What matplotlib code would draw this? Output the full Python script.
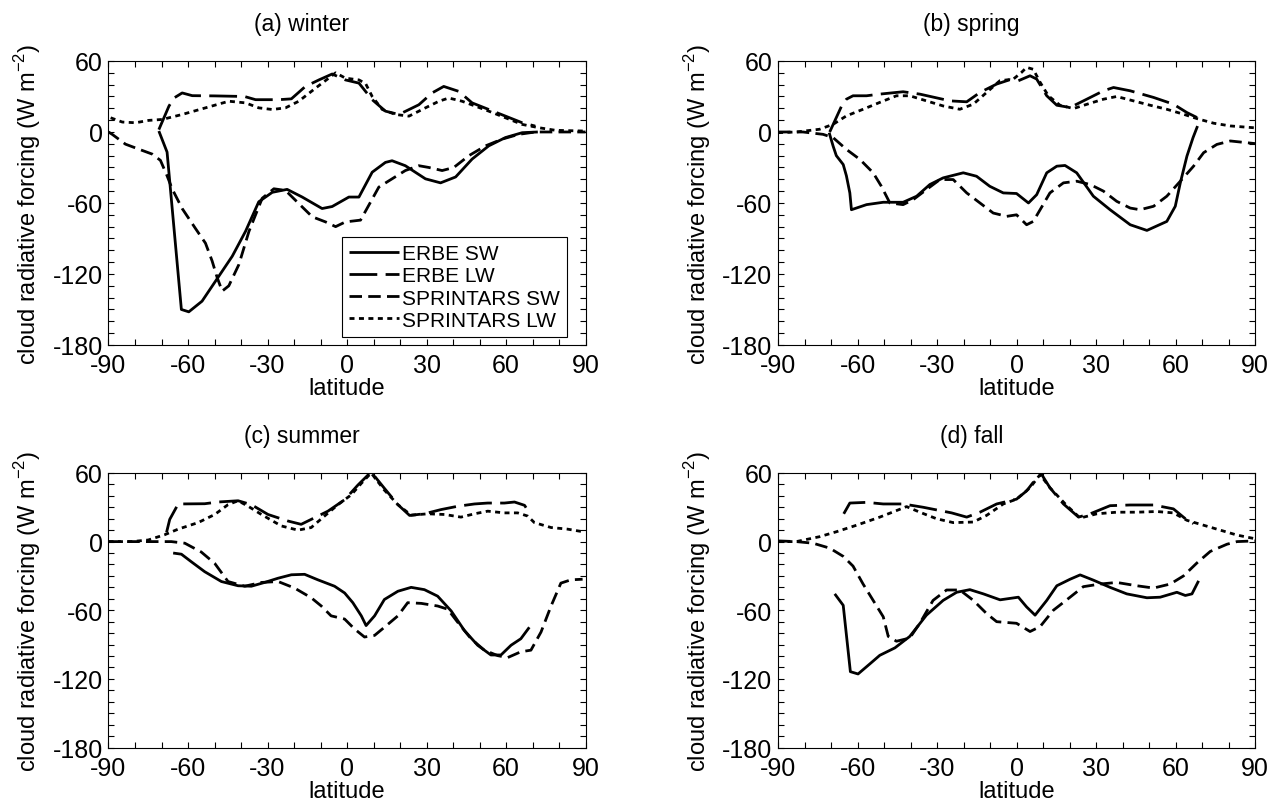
import matplotlib
matplotlib.use('Agg')
import matplotlib.pyplot as plt
from matplotlib.ticker import MultipleLocator

plt.rcParams['font.family'] = ['Liberation Sans', 'DejaVu Sans']
plt.rcParams['mathtext.fontset'] = 'custom'
plt.rcParams['mathtext.rm'] = 'Liberation Sans'
plt.rcParams['axes.unicode_minus'] = False
plt.rcParams['lines.scale_dashes'] = False

# (a) winter
a_erbe_sw_lat = [-71, -67.9, -62.5, -59.7, -54.7, -49.6, -43.3, -38.3, -33.3, -28.2, -22.6, -16.9,
                 -9.4, -5.6, 0.7, 4.5, 9.5, 14.5, 17, 22, 29.6, 35.3, 41, 47.2, 53.5, 59.8, 66.1, 72]
a_erbe_sw = [0.8, -17, -150, -152, -143, -126, -105, -84, -59, -51, -48.5, -55,
             -64.7, -63, -55, -55, -34, -25.7, -24.3, -28.5, -39.6, -43, -38, -22.9, -11.7, -4.7, -0.6, 0]
a_erbe_lw_lat = [-71, -67.2, -65.3, -62.2, -58.4, -50, -38.7, -34.5, -25.7, -21, -15.7, -10.6, -5.6,
                 -0.6, 4.5, 9.5, 14.5, 19.6, 27.1, 32.1, 36.5, 42.2, 47.2, 53.5, 59.8, 66.1, 71]
a_erbe_lw = [2, 21.8, 28.7, 33, 30.7, 30.5, 30, 27.3, 27.3, 28, 38.5, 44, 49,
             44, 41.3, 27.3, 17.6, 14.8, 23, 33, 38.5, 34.3, 24.6, 19, 13.4, 7.8, 5]
a_spr_sw_lat = [-90, -88.6, -83.6, -78.6, -73.5, -70.4, -67.9, -66, -62.2, -57.2, -53.4, -50.9, -49,
                -47.1, -44.6, -40.8, -37, -32, -27.6, -23.2, -18.2, -13.1, -8.1, -4.3, -0.6, 5.1,
                8.2, 12, 17, 22, 27.1, 30.9, 35.9, 40.3, 46, 52.3, 58.6, 64.8, 71.1, 90]
a_spr_sw = [0, -2, -10.3, -14.5, -18.7, -24, -37, -48, -64.7, -81.5, -94, -109, -123,
            -134.5, -130, -112, -84, -56, -48, -49.4, -60.5, -71.7, -76, -80, -76, -74.5,
            -62, -46.6, -39.6, -32.6, -28.5, -30, -32.6, -30, -20, -11.7, -6, -2, 0, 0]
a_spr_lw_lat = [-89.2, -84.8, -79.8, -74.8, -69.7, -62.2, -53.4, -44.6, -38.3, -33.3, -28.2, -23.2,
                -18.2, -11.9, -6.9, -4.3, -0.6, 4.5, 7, 9.5, 13.3, 18.3, 23.4, 29.6, 34.7, 38.4,
                43.4, 48.5, 53.5, 59.8, 66.1, 72.4, 78.7, 89.4]
a_spr_lw = [12, 8.4, 7.8, 9.8, 10.6, 14.8, 20.4, 26, 24.6, 20.4, 19, 20.4,
            26, 37, 45.5, 50, 45.5, 44, 41, 30, 19, 14.8, 13.4, 20.4, 26, 28.7,
            26, 21.8, 17.6, 12, 6.4, 3.6, 1.4, 0.8]

# (b) spring
b_erbe_sw_lat = [-70.7, -69.2, -68, -65.4, -64.2, -62.9, -62.3, -56.6, -50.3, -42.8, -37.7, -32.7,
                 -27.7, -20.1, -15.1, -10.1, -5, 0, 4.5, 7.6, 11.4, 15.2, 18.3, 22.7, 29, 35.3,
                 42.9, 49.2, 56.7, 59.9, 61.8, 64.3, 66.6, 68.3]
b_erbe_sw = [-0.6, -12, -20, -27.5, -37, -51.5, -65.7, -61.4, -59.4, -59.4, -54.3, -44.4,
             -38.8, -34.5, -37.4, -45.9, -51.5, -52, -60, -53, -34.5, -28.9, -28.3, -34.5, -54.3, -65.7,
             -78.4, -83.2, -75.6, -62.8, -43, -20.4, -4.8, 5]
b_erbe_lw_lat = [-70.5, -66, -64.2, -61.7, -56.6, -51.6, -42.8, -36.5, -25.1, -18.8, -13.8, -7.5,
                 -2.5, 0.7, 5.1, 7.6, 11.4, 15.2, 20.2, 26.5, 32.8, 36.6, 42.9, 51.7, 59.2, 64.3, 68.1]
b_erbe_lw = [0, 22, 27.7, 30.6, 30.6, 32, 34, 32, 26.3, 25.5, 33.4, 40.5,
             44.2, 43.3, 47.5, 44.7, 30.6, 22.6, 20.7, 27.7, 34.8, 37.6, 34.8, 29.2, 23.5, 16.4, 12.2]
b_spr_sw_lat = [-90, -80.6, -73, -69.2, -64.2, -59.1, -54.1, -51, -47.8, -42.8, -39, -34, -28.9,
                -23.9, -18.8, -13.8, -8.8, -3.7, 0, 3.8, 6.3, 8.9, 12.6, 17.7, 22.7, 27.8, 32.8,
                37.8, 42.9, 46.6, 51.7, 56.7, 61.8, 66.8, 70.6, 75.6, 80.7, 90]
b_spr_sw = [0, 0, -2, -4.8, -14.7, -23.2, -34.5, -45.9, -60, -61.4, -57.2, -48.7, -40.2,
            -40.2, -51.5, -60, -68.5, -71.3, -70, -78.4, -75.6, -65.7, -51.5, -43, -41.6, -44.4, -50,
            -58.6, -64.3, -65.7, -62.8, -54.3, -41.6, -28.9, -17.5, -10.5, -7.6, -9.8]
b_spr_lw_lat = [-90, -83.1, -74.3, -69.2, -64.2, -57.9, -51.6, -45.3, -40.3, -34, -27.7, -21.4,
                -16.3, -11.3, -6.3, -1.2, 1.9, 3.8, 6.3, 8.9, 12, 16.4, 21.5, 27.8, 32.8, 37.8,
                44.1, 50.4, 56.7, 63, 68.1, 74.4, 80.7, 90]
b_spr_lw = [-0.6, 0, 2.3, 6.5, 13.6, 19.2, 25, 30.6, 30.6, 26.3, 22, 19.2,
            23.5, 33.4, 43.3, 44.7, 50.4, 54.6, 53, 42, 30.6, 22.6, 19.8, 24.3, 27.7, 30,
            26.3, 22.6, 19.2, 15, 11.3, 7.4, 5.1, 3.5]

# (c) summer
c_erbe_sw_lat = [-65.6, -62.5, -58.7, -53.7, -47.4, -41.1, -36.1, -31.1, -26, -21, -16, -11, -4.7,
                 -0.9, 2.2, 5.4, 7.2, 10.4, 14.1, 19.2, 24.2, 29.2, 34.2, 39.3, 44.3, 49.3, 54.3,
                 58.1, 61.9, 65.6, 68.8]
c_erbe_sw = [-10, -11, -17.7, -26.3, -34.9, -38.6, -39, -35.7, -32, -29, -28.6, -33.4, -39,
             -44.9, -53.4, -64.9, -73.4, -64.9, -50.6, -43.4, -40, -42, -47.7, -60.6, -77.7, -90.6, -99.1,
             -99.1, -90.6, -84.9, -74.9]
c_erbe_lw_lat = [-68.1, -66.9, -63.7, -53.7, -48.7, -41.1, -36.1, -29.8, -22.3, -17.3, -12.2, -7.2,
                 -0.9, 4.1, 9.1, 14.1, 19.2, 23.6, 29.2, 35.5, 41.8, 48.1, 53.1, 59.4, 63.2, 67, 68.8]
c_erbe_lw = [8, 19.4, 32.9, 33.1, 34.6, 35.7, 32.3, 23.7, 18, 15.1, 20.9, 26.6,
             36.6, 49.4, 60.9, 46.6, 32.3, 22.9, 24.3, 28, 30.9, 32.9, 33.7, 33.7, 34.6, 31.7, 25]
c_spr_sw_lat = [-90, -66.3, -61.2, -55, -49.9, -44.9, -38.6, -32.3, -26, -19.8, -13.5, -9.7, -6,
                -0.9, 2.8, 6.6, 10.4, 14.1, 19.2, 22.9, 28, 34.2, 38, 41.8, 46.8, 51.8, 56.9, 60.6,
                65.6, 69.4, 73.2, 77, 80.7, 84.5, 88.9]
c_spr_sw = [0, 0, -1.4, -9.1, -19.1, -34.9, -39, -35.7, -34.9, -40.6, -49.1, -56.3, -64.9,
            -67.7, -76.3, -83.4, -82, -74.9, -64.9, -53.4, -54, -56.3, -59.1, -70.6, -84.9, -94.9, -99.7, -101.4,
            -96.3, -94.9, -79.1, -56.3, -36.3, -33.4, -32.9]
c_spr_lw_lat = [-90, -81.3, -75, -68.8, -63.7, -56.2, -49.9, -44.9, -41.1, -37.3, -32.3, -24.8,
                -18.5, -13.5, -8.5, -3.4, 1.6, 5.4, 9.1, 14.1, 19.2, 24.2, 30.5, 36.8, 43, 48.1,
                53.1, 59.4, 64.4, 68.2, 70.7, 77, 83.2, 88.3]
c_spr_lw = [0, 0, 1.4, 6, 10.9, 16.6, 23.7, 32.3, 35.7, 30.9, 23.7, 13.7,
            10, 12.3, 22.3, 32.3, 40.9, 50.9, 60, 45, 32.3, 23.1, 24.3, 23.7, 21.4, 24.3,
            26.6, 25.1, 25.1, 22.3, 16.6, 12.3, 10.9, 8.9]

# (d) fall
d_erbe_sw_lat = [-68.6, -65.4, -62.7, -59.8, -55.4, -51.6, -45.9, -40.3, -34, -27.7, -22.6, -17.6,
                 -12.5, -6.2, 0.7, 3.8, 7, 11.4, 15.2, 20.2, 24, 29, 35.3, 41.6, 49.2, 54.2, 60.5,
                 63.7, 66.2, 68.7]
d_erbe_sw = [-45.7, -55.7, -113.7, -115.7, -107, -99.4, -92.9, -82.9, -64.3, -51.4, -44.3, -42,
             -45.7, -50.9, -48.6, -57.1, -64.3, -51.4, -38.6, -32.9, -29.1, -33.7, -40, -45.7, -49.1, -48.6, -44.3,
             -47.1, -45.7, -34.3]
d_erbe_lw_lat = [-65.2, -62.9, -56.6, -50.3, -42.8, -35.2, -24.5, -18.8, -13.8, -7.5, 0, 3.8, 7.6,
                 9.5, 12.6, 17.7, 23.4, 27.8, 35.3, 42.9, 51.7, 59.2, 63.7, 66.8]
d_erbe_lw = [24.3, 33.7, 34.3, 32.9, 32.9, 30, 25.1, 21.4, 25.7, 32.9, 37.1, 44.3, 55.7,
             58.6, 47.1, 32.9, 21.4, 24.3, 31.4, 32, 32, 28.6, 20, 15.7]
d_spr_sw_lat = [-90, -83.1, -76.8, -70.5, -65.4, -61.7, -57.9, -54.1, -50.3, -48.4, -45.3, -40.3,
                -36.5, -31.5, -26.4, -21.4, -16.3, -11.3, -7.5, 0, 5.1, 8.9, 13.9, 20.2, 25.2, 31.5,
                37.8, 45.4, 51.7, 58, 63, 68.1, 73.1, 79.4, 83.2, 90]
d_spr_sw = [0.6, 0, -1.4, -5.7, -12.9, -21.4, -37.1, -51.4, -65.7, -82.9, -87.1, -84.3,
            -71.4, -51.4, -42.3, -42.3, -51.4, -62.9, -70, -71.4, -78.6, -74.3, -60, -48.6, -39.4, -37.1,
            -35.7, -38.6, -40.6, -37.1, -30, -18.6, -8.6, -2.3, 0, 0.6]
d_spr_lw_lat = [-90, -83.1, -74.3, -68, -60.4, -51.6, -45.3, -41.5, -36.5, -30.2, -23.9, -16.3,
                -11.3, -5, 0, 5.1, 8.9, 12.6, 19, 24, 30.3, 37.8, 45.4, 52.9, 59.2, 64.3, 70.6,
                76.9, 83.2, 90]
d_spr_lw = [0, 0, 4.3, 8.6, 14.3, 21.4, 27.1, 30.6, 25.7, 20, 16.6, 17.1,
            22.9, 32.9, 37.1, 47.1, 58.6, 47.1, 31.4, 20.6, 24.3, 25.7, 25.7, 26.3, 25.1, 18.6, 14.3,
            10, 5.7, 2.5]

titles = ['(a) winter', '(b) spring', '(c) summer', '(d) fall']
labels = ['ERBE SW', 'ERBE LW', 'SPRINTARS SW', 'SPRINTARS LW']
styles = [(0, ()), (0, (20, 6)), (0, (9, 4.5)), (0, (3.6, 3.2))]

panels = [
    [(a_erbe_sw_lat, a_erbe_sw), (a_erbe_lw_lat, a_erbe_lw), (a_spr_sw_lat, a_spr_sw), (a_spr_lw_lat, a_spr_lw)],
    [(b_erbe_sw_lat, b_erbe_sw), (b_erbe_lw_lat, b_erbe_lw), (b_spr_sw_lat, b_spr_sw), (b_spr_lw_lat, b_spr_lw)],
    [(c_erbe_sw_lat, c_erbe_sw), (c_erbe_lw_lat, c_erbe_lw), (c_spr_sw_lat, c_spr_sw), (c_spr_lw_lat, c_spr_lw)],
    [(d_erbe_sw_lat, d_erbe_sw), (d_erbe_lw_lat, d_erbe_lw), (d_spr_sw_lat, d_spr_sw), (d_spr_lw_lat, d_spr_lw)],
]

# axes boxes in figure fractions: left, bottom, width, height
boxes = [
    [0.0855, 0.5697, 0.3759, 0.3532],
    [0.6131, 0.5697, 0.3759, 0.3532],
    [0.0855, 0.0690, 0.3759, 0.3415],
    [0.6131, 0.0690, 0.3759, 0.3415],
]

fig = plt.figure(figsize=(12.69, 8.04), dpi=100)
for i, box in enumerate(boxes):
    ax = fig.add_axes(box)
    for (lat, val), ls, lab in zip(panels[i], styles, labels):
        ax.plot(lat, val, color='black', linewidth=2.0, linestyle=ls, label=lab)
    ax.set_xlim(-90, 90)
    ax.set_ylim(-180, 60)
    ax.xaxis.set_major_locator(MultipleLocator(30))
    ax.xaxis.set_minor_locator(MultipleLocator(10))
    ax.yaxis.set_major_locator(MultipleLocator(60))
    ax.yaxis.set_minor_locator(MultipleLocator(10))
    ax.tick_params(which='both', direction='in', top=True, right=True,
                   length=4.5, width=0.8, labelsize=18)
    ax.tick_params(axis='x', pad=6)
    ax.tick_params(axis='y', pad=4)
    for s in ax.spines.values():
        s.set_linewidth(0.8)
    ax.set_xlabel('latitude', fontsize=17, labelpad=0)
    ax.set_ylabel('cloud radiative forcing (W m$^{\\mathregular{-2}}$)', fontsize=17)
    ax.yaxis.set_label_coords(-0.137, 0.5)
    ax.set_title(titles[i], fontsize=16.5, x=0.405, pad=22)
    if i == 0:
        leg = ax.legend(loc='lower right', bbox_to_anchor=(0.962, 0.028), borderaxespad=0,
                        fontsize=15, handlelength=2.4, handletextpad=0.15, labelspacing=0.15,
                        borderpad=0.35, fancybox=False, framealpha=1)
        leg.get_frame().set_edgecolor('black')
        leg.get_frame().set_linewidth(0.8)

fig.savefig('out.png', dpi=100)
